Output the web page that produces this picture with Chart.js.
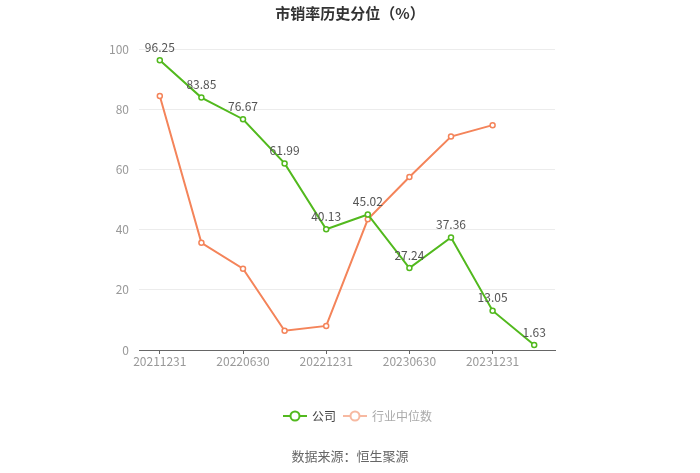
<!DOCTYPE html>
<html lang="zh-CN">
<head>
  <meta charset="UTF-8" />
  <title>市销率历史分位</title>
  <script src="https://cdn.jsdelivr.net/npm/chart.js"></script>
  <style>
    html, body { margin: 0; padding: 0; background: #fff; }
    .box { width: 700px; height: 473px; }
  </style>
</head>
<body>
  <div class="box"><canvas id="grafico" width="700" height="473"></canvas></div>

  <script>
  const datas = ['20211231', '20220331', '20220630', '20220930', '20221231', '20230331', '20230630', '20230930', '20231231', '20240331'];
  const empresa = [96.25, 83.85, 76.67, 61.99, 40.13, 45.02, 27.24, 37.36, 13.05, 1.63];
  const industria = [84.4, 35.6, 27.0, 6.4, 8.0, 43.4, 57.5, 70.9, 74.7, null];
  const yTicks = [0, 20, 40, 60, 80, 100];

  const verde = '#52b91e';
  const laranja = '#f4845a';
  const fonte = '"Noto Sans CJK SC", "Noto Sans", sans-serif';

  // titulo, legenda, rotulos e fonte
  const extras = {
    id: 'extras',
    afterDatasetsDraw(chart) {
      const ctx = chart.ctx;
      ctx.save();
      ctx.textAlign = 'center';
      ctx.textBaseline = 'middle';

      // rotulos dos valores (so empresa)
      ctx.font = '12px ' + fonte;
      ctx.fillStyle = '#555';
      const meta = chart.getDatasetMeta(0);
      meta.data.forEach((p, i) => {
        ctx.fillText(empresa[i].toFixed(2), p.x, p.y - 13);
      });

      // titulo
      ctx.font = 'bold 15px ' + fonte;
      ctx.fillStyle = '#333';
      ctx.fillText('市销率历史分位（%）', 350, 13);

      // legenda
      function item(x, cor, texto, corTexto) {
        ctx.strokeStyle = cor;
        ctx.lineWidth = 2;
        ctx.beginPath();
        ctx.moveTo(x, 416);
        ctx.lineTo(x + 24, 416);
        ctx.stroke();
        ctx.beginPath();
        ctx.arc(x + 12, 416, 4.5, 0, Math.PI * 2);
        ctx.fillStyle = '#fff';
        ctx.fill();
        ctx.stroke();
        ctx.font = '12px ' + fonte;
        ctx.fillStyle = corTexto;
        ctx.textAlign = 'left';
        ctx.fillText(texto, x + 29, 416);
      }
      item(283, verde, '公司', '#444');
      item(343, '#f7b9a1', '行业中位数', '#aaa');

      // fonte
      ctx.textAlign = 'center';
      ctx.font = '13px ' + fonte;
      ctx.fillStyle = '#666';
      ctx.fillText('数据来源：恒生聚源', 350, 456);
      ctx.restore();
    }
  };

  new Chart(document.getElementById('grafico'), {
    type: 'line',
    data: {
      labels: datas,
      datasets: [
        {
          label: '公司',
          data: empresa,
          borderColor: verde,
          backgroundColor: '#fff',
          borderWidth: 2,
          pointRadius: 2.5,
          pointBorderWidth: 1.5,
          pointBackgroundColor: '#fff',
          pointBorderColor: verde,
          tension: 0
        },
        {
          label: '行业中位数',
          data: industria,
          borderColor: laranja,
          backgroundColor: '#fff',
          borderWidth: 2,
          pointRadius: 2.5,
          pointBorderWidth: 1.5,
          pointBackgroundColor: '#fff',
          pointBorderColor: laranja,
          tension: 0
        }
      ]
    },
    options: {
      responsive: false,
      animation: false,
      layout: { padding: { left: 99, right: 145, top: 49, bottom: 103 } },
      plugins: {
        legend: { display: false },
        title: { display: false },
        tooltip: { enabled: false }
      },
      scales: {
        x: {
          offset: true,
          afterFit: s => { s.height = 20; },
          grid: {
            offset: false,
            drawOnChartArea: false,
            tickLength: 4,
            color: c => (c.index % 2 === 0 ? '#666' : 'rgba(0,0,0,0)')
          },
          border: { color: '#666', width: 1 },
          ticks: {
            autoSkip: false,
            maxRotation: 0,
            padding: 0,
            color: '#999',
            font: { size: 12, family: fonte },
            callback: (v, i) => (i % 2 === 0 ? datas[i] : '')
          }
        },
        y: {
          min: 0,
          max: 100,
          afterFit: s => { s.width = 40; },
          afterBuildTicks: s => { s.ticks = yTicks.map(v => ({ value: v })); },
          grid: { color: '#ececec', drawTicks: false },
          border: { display: false },
          ticks: {
            padding: 10,
            color: '#999',
            font: { size: 12, family: fonte }
          }
        }
      }
    },
    plugins: [extras]
  });
  </script>
</body>
</html>
